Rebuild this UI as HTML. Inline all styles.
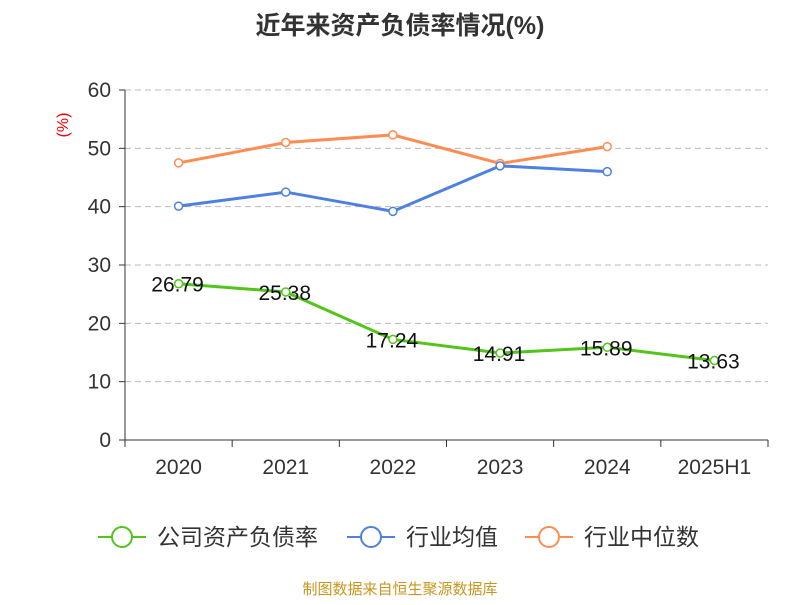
<!DOCTYPE html>
<html><head><meta charset="utf-8"><style>
body{margin:0;background:#fff;width:800px;height:600px;overflow:hidden;font-family:"Liberation Sans","Noto Sans CJK SC",sans-serif}
</style></head><body>
<svg width="800" height="600" xmlns="http://www.w3.org/2000/svg" id="chart" font-family="Liberation Sans, Noto Sans CJK SC, sans-serif">
<text x="400" y="34" text-anchor="middle" font-size="25" font-weight="bold" fill="#333">近年来资产负债率情况(%)</text>
<text x="68" y="125" text-anchor="middle" font-size="16" fill="#e00" transform="rotate(-90 68 125)">(%)</text>
<g id="grid"></g><g id="axes"></g><g id="series"></g>
<g>
<g><line x1="98" y1="537" x2="146" y2="537" stroke="#52c41a" stroke-width="2"/><circle cx="122" cy="537" r="10" fill="#fff" stroke="#52c41a" stroke-width="2"/><text x="157" y="545" font-size="23" fill="#333">公司资产负债率</text></g>
<g><line x1="347" y1="537" x2="395" y2="537" stroke="#4e80e0" stroke-width="2"/><circle cx="371" cy="537" r="10" fill="#fff" stroke="#4e80e0" stroke-width="2"/><text x="406" y="545" font-size="23" fill="#333">行业均值</text></g>
<g><line x1="525" y1="537" x2="573" y2="537" stroke="#ff8c52" stroke-width="2"/><circle cx="549" cy="537" r="10" fill="#fff" stroke="#ff8c52" stroke-width="2"/><text x="584" y="545" font-size="23" fill="#333">行业中位数</text></g>
</g>
<text x="400" y="594" text-anchor="middle" font-size="15" fill="#c8961e">制图数据来自恒生聚源数据库</text>
</svg>
<script>
const categories=["2020","2021","2022","2023","2024","2025H1"];
const companyValues=[26.79,25.38,17.24,14.91,15.89,13.63];
const industryAvg=[40.1,42.5,39.2,47.0,46.0];
const industryMedian=[47.5,51.0,52.3,47.4,50.3];
const yTicks=[0,10,20,30,40,50,60];
const NS="http://www.w3.org/2000/svg";
const x0=125,x1=768,yBase=440,yTop=90,yMax=60;
const band=(x1-x0)/categories.length;
const X=i=>x0+band*(i+0.5);
const Y=v=>yBase-(v/yMax)*(yBase-yTop);
function mk(tag,attrs,parent){const e=document.createElementNS(NS,tag);for(const k in attrs)e.setAttribute(k,attrs[k]);parent.appendChild(e);return e;}
const grid=document.getElementById('grid'),axes=document.getElementById('axes'),ser=document.getElementById('series');
yTicks.forEach(t=>{
  if(t>0){const l=mk('line',{x1:x0,x2:x1,y1:Y(t),y2:Y(t),stroke:'#bbb','stroke-dasharray':'6,4'},grid);
  
  }
  const tk=mk('line',{x1:x0-6,x2:x0,y1:Y(t),y2:Y(t),stroke:'#333'},axes);
  
  
  const tx=mk('text',{x:x0-14,y:Y(t)+7,'text-anchor':'end','font-size':21,fill:'#333'},axes);tx.textContent=t;
  
  
});
const ya=mk('line',{x1:x0,x2:x0,y1:yTop,y2:yBase,stroke:'#333'},axes);


const xa=mk('line',{x1:x0,x2:x1,y1:yBase,y2:yBase,stroke:'#333'},axes);


for(let i=0;i<=categories.length;i++){const t=mk('line',{x1:x0+band*i,x2:x0+band*i,y1:yBase,y2:yBase+7,stroke:'#333'},axes);
  
  }
categories.forEach((c,i)=>{const t=mk('text',{x:X(i),y:474,'text-anchor':'middle','font-size':21,fill:'#333'},axes);t.textContent=c;
  
  });
function line(vals,color,name,labels){
  const g=mk('g',{},ser);
  
  
  const p=mk('polyline',{points:vals.map((v,i)=>X(i)+','+Y(v)).join(' '),fill:'none',stroke:color,'stroke-width':3},g);
  
  
  vals.forEach((v,i)=>{const c=mk('circle',{cx:X(i),cy:Y(v),r:4,fill:'#fff',stroke:color,'stroke-width':1.5},g);
    
    
    if(labels){const t=mk('text',{x:X(i)-1,y:Y(v)+8,'text-anchor':'middle','font-size':21,fill:'#111'},g);t.textContent=v.toFixed(2);
      
      }
  });
}
line(industryMedian,'#ff8c52','industry-median-series',false);
line(industryAvg,'#4e80e0','industry-avg-series',false);
line(companyValues,'#52c41a','company-series',true);
</script>
</body></html>
